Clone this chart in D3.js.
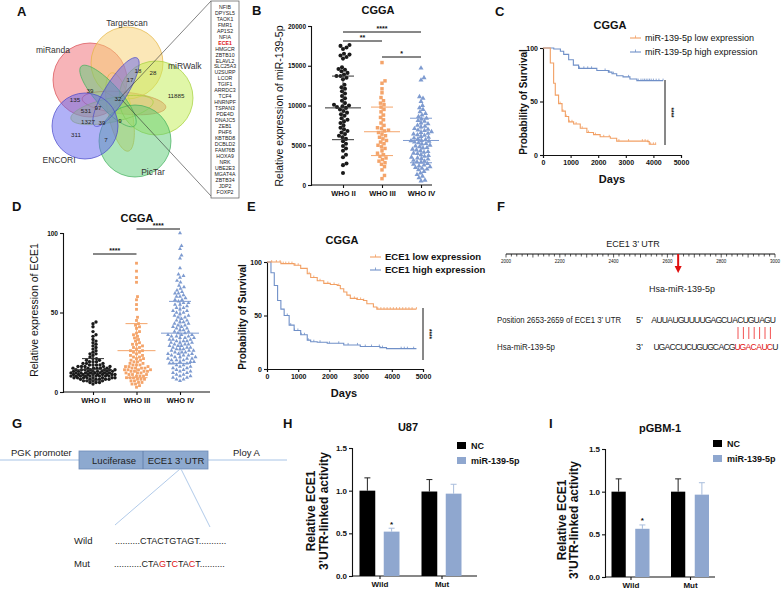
<!DOCTYPE html>
<html><head><meta charset="utf-8">
<script src="https://cdn.jsdelivr.net/npm/d3@7"></script>
<style>body{margin:0;background:#fff} text{font-family:"Liberation Sans",Arial,sans-serif}</style>
</head><body><svg id="c" width="784" height="593"></svg>
<script>
// ---------------- DATA ----------------
const vennSets = ['miRanda','Targetscan','miRWalk','PicTar','ENCORI'];
const vennCounts = ['18','28','17','11885','39','32','135','97','531','1327','39','9','311','7'];
const genes = ['NFIB','DPYSL5','TAOK1','FMR1','AP1S2','NFIA','ECE1','HMGCR','ZBTB10','ELAVL2','SLC25A3','U2SURP','LCOR','TGIF1','ARRDC3','TCF4','HNRNPF','TSPAN3','PDE4D','DNAJC5','ZEB1','PHF6','KBTBD8','DCBLD2','FAM76B','HOXA9','NRK','UBE2E3','MGAT4A','ZBTB34','JDP2','FOXP2'];
const highlightGene = 'ECE1';

const grades = ['WHO II','WHO III','WHO IV'];
const yTicksB = [0,5000,10000,15000,20000];
const miRWho2 = [17600,17500,17300,17100,16500,16400,16300,16100,15900,14800,14600,14500,14300,14100,13900,13700,13700,13500,13300,12600,12300,12100,11800,11500,11200,10900,10600,10300,10100,10000,9900,9800,9700,9500,9300,9100,8900,8700,8400,8200,8000,7800,7500,7200,7000,6800,6600,6400,6200,6000,5800,5500,5200,4900,4600,4300,3800,3500,2700,2500,1500];
const miRWho3 = [15400,13100,12800,12100,11600,11000,10600,10300,10100,9800,9500,9200,8800,8500,8200,7800,7500,7200,7100,6900,6800,6600,6400,6200,6000,5800,5600,5400,5200,5000,4800,4600,4300,4000,3800,3600,3400,3200,3000,2800,2600,2300,1900,1200,800];
const miRWho4 = [14700,13500,13200,11100,10900,10500,10000,9700,9500,9200,9000,8800,8600,8400,8300,8100,8000,7800,7700,7500,7400,7300,7100,7000,6900,6850,6700,6600,6500,6400,6300,6250,6100,6000,5900,5800,5700,5600,5550,5500,5400,5300,5200,5150,5000,4900,4800,4700,4650,4500,4400,4300,4200,4100,4000,3950,3800,3700,3600,3500,3400,3300,3250,3100,3000,2900,2850,2700,2600,2500,2400,2300,2200,2100,2000,1900,1700,1500,1300,1100,900,600,500];
const miRMean = [9700,6700,5600];
const miRSdLow = [5700,3700,2800];
const miRSdHigh = [13700,9800,8400];

const yTicksD = [0,50,100];
const eceWho2 = [44,43,41,38,36,35,33,32,31,30,29,28,27,26,25,24,24,23,22,21,21,20,20,19,19,19,18,18,18,17,17,17,17,16,16,16,16,16,15,15,15,15,15,15,14,14,14,14,14,14,14,13,13,13,13,13,13,13,13,12,12,12,12,12,12,12,12,12,11,11,11,11,11,11,11,11,11,11,10,10,10,10,10,10,10,10,10,9,9,9,9,9,9,9,9,8,8,8,8,8,8,7,7,7,7,6,6,6,5];
const eceWho3 = [81,76,72,69,60,58,55,52,47,45,43,42,41,40,38,37,36,35,34,33,32,31,30,30,29,28,28,27,26,26,25,25,24,23,23,22,22,21,21,20,20,19,19,18,18,17,17,17,16,16,16,15,15,15,15,14,14,14,14,13,13,13,13,12,12,12,11,11,11,10,10,10,9,9,9,8,8,8,7,7,6,6,5,5,4,3];
const eceWho4 = [100,92,90,86,84,78,74,73,72,70,69,67,66,65,64,63,62,62,61,60,60,59,58,58,57,56,56,55,55,54,53,53,52,51,51,50,50,49,48,48,47,47,46,45,45,44,44,43,43,42,42,41,41,40,40,39,39,38,38,37,37,36,36,36,35,35,35,34,34,34,33,33,33,32,32,32,31,31,31,30,30,30,29,29,29,28,28,28,27,27,27,26,26,26,25,25,25,24,24,24,23,23,23,22,22,22,21,21,21,20,20,20,19,19,19,18,18,18,17,17,16,16,15,15,14,14,13,13,12,12,11,11,10,10,9,9,8,8,7];
const eceMean = [14,26,37];
const eceSdLow = [7,9,18];
const eceSdHigh = [21,43,57];

const dayTicks = [0,1000,2000,3000,4000,5000];
const survTicks = [0,50,100];
const cLowLabel = 'miR-139-5p low expression', cHighLabel = 'miR-139-5p high expression';
const cLowT = [0,100,265,385,445,565,690,810,930,1110,1350,1590,1830,2070,2440,2670,3800,3850,4100];
const cLowS = [100,100,86,67,56,48,41,36,31,29,25,21,19,17,15.6,13,12.5,10,10];
const cLowCens = [620,720,840,950,1050,1200,1420,1650,1900,2200,2400,2750,3100,3600,3700,3800,3900,4000,4080];
const cHighT = [0,390,630,750,930,1100,1290,1950,2370,2500,2670,2900,3150,3400,4350];
const cHighS = [100,99,97,94,89,84,81,79,77.5,76,74,73,71,69.5,69.5];
const cHighCens = [1320,1480,1620,1760,2250,2400,2550,3100,3450,3550,3620,3680,3740,3800,3860,3920,4000,4100,4200,4350];

const eLowLabel = 'ECE1 low expression', eHighLabel = 'ECE1 high expression';
const eLowT = [0,445,870,1080,1290,1400,1610,1820,2030,2250,2350,2460,2560,2670,2880,3090,3200,3410,3520,4790];
const eLowS = [100,98.5,97,94,89,85.5,82.5,80,79,78,75,72,69,66,65,64,61,58,56,56];
const eLowCens = [150,300,420,520,600,700,800,900,1000,1350,1500,1700,1950,2150,2300,2800,2900,3000,3100,3550,3650,3750,3850,3950,4050,4150,4250,4350,4450,4550,4650,4790];
const eHighT = [0,127,233,340,445,550,710,870,1080,1290,1400,1610,1930,2460,2990,3620,3830,4790];
const eHighS = [100,90,78,64,56,50,41,36,32,27,25.5,25,24,22.5,21,20,19,19];
const eHighCens = [650,760,880,990,1100,1200,1320,1500,1700,2000,2300,2600,2900,3150,3350,3600,3700,4300,4400,4500,4700];

const rulerTicks = [2000,2200,2400,2600,2800,3000];
const siteLabel = 'ECE1   3\u2019  UTR';
const utrSeq = 'AUUAUGUUUUGAGCUACUGUAGU';
const mirSeq = 'UGACCUCUGUGCACGUGACAUCU';
const seedRange = [15,21];
const wildSeq = 'CTACTGTAGT';
const mutSeq = 'CTAGTCTACT';
const mutRed = [3,5,8];

const barGroups = ['Wild','Mut'];
const barSeries = ['NC','miR-139-5p'];
const barTicks = [0,0.5,1.0,1.5];
const u87Mean = [[1.0,0.52],[0.99,0.965]];
const u87Err = [[0.15,0.04],[0.14,0.11]];
const pgbmMean = [[1.0,0.565],[1.0,0.965]];
const pgbmErr = [[0.15,0.045],[0.15,0.14]];

// ---------------- DRAW ----------------
const svg = d3.select('#c');
svg.append('rect').attr('width',784).attr('height',593).attr('fill','#fff');
const FONT = '"Liberation Sans",Arial,sans-serif';
const COL = {black:'#1a1a1a', orange:'#f4a46a', blue:'#7e9bd0', kmO:'#f2a064', kmB:'#7090c8', bar:'#8fa7cf'};

function txt(x,y,s,o={}) {
  const t = svg.append('text').attr('x',x).attr('y',y).text(s)
    .attr('font-size',o.size||9).attr('font-weight',o.weight||'normal')
    .attr('fill',o.fill||'#111').attr('text-anchor',o.anchor||'start');
  if (o.rotate) t.attr('transform',`rotate(${o.rotate},${x},${y})`);
  if (o.len) t.attr('textLength',o.len).attr('lengthAdjust','spacingAndGlyphs');
  return t;
}
// panel letters
[['A',17,16],['B',252,15],['C',495,16],['D',12,211],['E',247,211],['F',497,211],['G',12,428],['H',283,428],['I',549,428]]
  .forEach(([l,x,y])=>txt(x,y,l,{size:13,weight:'bold'}));

// ---- Panel A: Venn ----
(function(){
  const shapes = {
    miRanda:   {c:[90,80,37],  e:[124,103,42,11,6],   fill:'#f06a72', stroke:'#d84a50'},
    Targetscan:{c:[127,63,36], e:[120,112,12,40,-12],  fill:'#f8d070', stroke:'#e4b440'},
    miRWalk:   {c:[156,98,37], e:[112,110,42,12,-12], fill:'#c2ee52', stroke:'#a4d038'},
    PicTar:    {c:[135,141,36],e:[108,96,12,40,-42],  fill:'#5ccc76', stroke:'#3faf5a'},
    ENCORI:    {c:[85,126,33], e:[116,92,11,40,32],   fill:'#6264f0', stroke:'#4646c8'}
  };
  function shapePath(s){
    const p = d3.path();
    const [cx,cy,r] = s.c;
    p.moveTo(cx+r,cy); p.arc(cx,cy,r,0,Math.PI*2); p.closePath();
    const [ex,ey,rx,ry,rot] = s.e; const th = rot*Math.PI/180;
    for (let i=0;i<=72;i++){
      const t = i/72*Math.PI*2;
      const x = ex + rx*Math.cos(t)*Math.cos(th) - ry*Math.sin(t)*Math.sin(th);
      const y = ey + rx*Math.cos(t)*Math.sin(th) + ry*Math.sin(t)*Math.cos(th);
      if (i===0) p.moveTo(x,y); else p.lineTo(x,y);
    }
    p.closePath();
    return p.toString();
  }
  const g = svg.append('g');
  vennSets.forEach(n=>{
    const s = shapes[n];
    g.append('path').attr('d',shapePath(s)).attr('fill',s.fill).attr('fill-opacity',0.5)
      .attr('fill-rule','nonzero').attr('stroke',s.stroke).attr('stroke-width',0.7);
  });
  const setLabelPos = {Targetscan:[127,26,'middle'],miRanda:[53,53,'middle'],miRWalk:[168,69,'start'],ENCORI:[59,163,'middle'],PicTar:[153,175,'middle']};
  vennSets.forEach(n=>{const [x,y,a]=setLabelPos[n]; txt(x,y,n,{size:8.5,anchor:a,fill:'#333'});});
  const countPos = [[138,73],[153,75],[130,82],[176,98],[90,93],[118,101],[75,102],[98,110],[86,113],[88,124],[102,125],[120,123],[76,137],[106,142]];
  vennCounts.forEach((c,i)=>txt(countPos[i][0],countPos[i][1],c,{size:6.2,anchor:'middle',fill:'#222'}));
  svg.append('line').attr('x1',120).attr('y1',98).attr('x2',211).attr('y2',1).attr('stroke','#333').attr('stroke-width',0.6);
  svg.append('line').attr('x1',122).attr('y1',100).attr('x2',211).attr('y2',196).attr('stroke','#333').attr('stroke-width',0.6);
  svg.append('rect').attr('x',211).attr('y',1).attr('width',28).attr('height',197).attr('fill','#fff').attr('stroke','#555').attr('stroke-width',0.7);
  const gy = d3.scalePoint().domain(genes).range([7,192]);
  genes.forEach(gn=>txt(225,gy(gn)+1.8,gn,{size:5.2,anchor:'middle',fill:gn===highlightGene?'#e01010':'#222',weight:gn===highlightGene?'bold':'normal'}));
})();

// ---- beeswarm ----
function swarm(values, y, r, maxHalf, sep){
  const pts = values.map(v=>({v, y:y(v)})).sort((a,b)=>b.y-a.y);
  const placed = [];
  const d = 2*r*sep;
  for (const p of pts){
    let best=0, bestScore=-1;
    for (let k=0;k<=maxHalf*4;k++){
      const off = (k%2?1:-1)*Math.ceil(k/2)*0.5;
      let minD = Infinity;
      for (const q of placed){ if (Math.abs(q.y-p.y)<d){ const dd=Math.hypot(q.x-off,q.y-p.y); if(dd<minD)minD=dd; } }
      if (minD>=d){ best=off; bestScore=Infinity; break; }
      if (minD>bestScore){ bestScore=minD; best=off; }
    }
    p.x=best; placed.push(p);
  }
  return pts;
}
function styleAxis(g,size){
  g.selectAll('text').attr('font-size',size||7).attr('font-weight','bold').attr('fill','#111').attr('font-family',FONT);
  g.selectAll('line,path').attr('stroke','#111').attr('stroke-width',1.1);
}

function scatterPanel(o){
  const y = d3.scaleLinear().domain([o.yTicks[0],o.yTicks[o.yTicks.length-1]]).range([o.y0,o.y1]);
  const x = d3.scalePoint().domain(grades).range([o.xc[0],o.xc[1]]);
  const ga = svg.append('g').attr('transform',`translate(${o.ax},0)`).call(d3.axisLeft(y).tickValues(o.yTicks).tickSize(3).tickPadding(2).tickFormat(d3.format('d')));
  styleAxis(ga,6.5);
  const gx = svg.append('g').attr('transform',`translate(0,${o.y0})`).call(d3.axisBottom(x).tickSize(3).tickPadding(3));
  gx.select('.domain').remove(); styleAxis(gx,7.5);
  svg.append('line').attr('x1',o.ax).attr('x2',o.xEnd).attr('y1',o.y0).attr('y2',o.y0).attr('stroke','#111').attr('stroke-width',1.1);
  const sym = [d3.symbolCircle,d3.symbolSquare,d3.symbolTriangle];
  const cols = [COL.black,COL.orange,COL.blue];
  o.data.forEach((vals,i)=>{
    const pts = swarm(vals,y,o.r[i],o.maxHalf[i],o.sep);
    svg.append('g').selectAll('path').data(pts).join('path')
      .attr('d',d3.symbol().type(sym[i]).size(o.symSize[i]))
      .attr('transform',d=>`translate(${x(grades[i])+d.x},${d.y})`)
      .attr('fill',cols[i]);
    const cx = x(grades[i]);
    const lc = i===0?'#333':cols[i];
    svg.append('line').attr('x1',cx-o.meanW).attr('x2',cx+o.meanW).attr('y1',y(o.mean[i])).attr('y2',y(o.mean[i])).attr('stroke',lc).attr('stroke-width',1);
    [o.sdLow[i],o.sdHigh[i]].forEach(v=>svg.append('line').attr('x1',cx-o.sdW).attr('x2',cx+o.sdW).attr('y1',y(v)).attr('y2',y(v)).attr('stroke',lc).attr('stroke-width',1));
    svg.append('line').attr('x1',cx).attr('x2',cx).attr('y1',y(o.sdLow[i])).attr('y2',y(o.sdHigh[i])).attr('stroke',lc).attr('stroke-width',0.8);
  });
  o.sig.forEach(s=>{
    svg.append('line').attr('x1',x(grades[s[0]])).attr('x2',x(grades[s[1]])).attr('y1',s[2]).attr('y2',s[2]).attr('stroke','#111').attr('stroke-width',1);
    txt((x(grades[s[0]])+x(grades[s[1]]))/2,s[2]-1.5,s[3],{size:7,anchor:'middle',weight:'bold'});
  });
  txt(o.title[0],o.title[1],'CGGA',{size:11,weight:'bold',anchor:'middle'});
  txt(o.ylab[0],o.ylab[1],o.ylab[2],{size:o.ylab[3],anchor:'middle',rotate:-90,fill:'#111'});
}

scatterPanel({yTicks:yTicksB,y0:185,y1:26,ax:311,xEnd:432,xc:[343,421],data:[miRWho2,miRWho3,miRWho4],
  r:[1.9,1.9,1.8],sep:1.0,maxHalf:[20,18,20],symSize:[13,12,11],mean:miRMean,sdLow:miRSdLow,sdHigh:miRSdHigh,meanW:18,sdW:11,
  sig:[[0,2,32,'****'],[0,1,41,'**'],[1,2,57,'*']],title:[378,14],ylab:[283,106,'Relative expression of miR-139-5p',10.5]});

scatterPanel({yTicks:yTicksD,y0:392,y1:233,ax:63,xEnd:210,xc:[93,180],data:[eceWho2,eceWho3,eceWho4],
  r:[1.6,1.7,1.8],sep:0.95,maxHalf:[22,18,19],symSize:[9,8,7],mean:eceMean,sdLow:eceSdLow,sdHigh:eceSdHigh,meanW:19,sdW:11,
  sig:[[0,1,254,'****'],[1,2,229,'****']],title:[137,222],ylab:[38,310,'Relative expression of ECE1',10.5]});

// ---- KM panels ----
function kmPanel(o){
  const x = d3.scaleLinear().domain([0,5000]).range([o.x0,o.x1]);
  const y = d3.scaleLinear().domain([0,100]).range([o.y0,o.y1]);
  const ga = svg.append('g').attr('transform',`translate(${o.x0},0)`).call(d3.axisLeft(y).tickValues(survTicks).tickSize(3).tickPadding(2).tickFormat(d3.format('d')));
  styleAxis(ga,7);
  const gx = svg.append('g').attr('transform',`translate(0,${o.y0})`).call(d3.axisBottom(x).tickValues(dayTicks).tickSize(3).tickPadding(2).tickFormat(d3.format('d')));
  styleAxis(gx,7);
  const line = d3.line().x(d=>x(d[0])).y(d=>y(d[1])).curve(d3.curveStepAfter);
  o.series.forEach(s=>{
    const pts = s.t.map((t,i)=>[t,s.s[i]]);
    svg.append('path').attr('d',line(pts)).attr('fill','none').attr('stroke',s.col).attr('stroke-width',1.1);
    const lookup = t=>{let v=s.s[0]; for(let i=0;i<s.t.length;i++){ if(s.t[i]<=t) v=s.s[i]; } return v;};
    s.cens.forEach(t=>svg.append('line').attr('x1',x(t)).attr('x2',x(t)).attr('y1',y(lookup(t))-2).attr('y2',y(lookup(t))).attr('stroke',s.col).attr('stroke-width',0.8));
  });
  o.legend.forEach((l,i)=>{
    const ly = o.leg[1]+i*o.leg[3];
    svg.append('line').attr('x1',o.leg[0]).attr('x2',o.leg[0]+11).attr('y1',ly).attr('y2',ly).attr('stroke',l[1]).attr('stroke-width',1.1);
    svg.append('line').attr('x1',o.leg[0]+5.5).attr('x2',o.leg[0]+5.5).attr('y1',ly-2.5).attr('y2',ly).attr('stroke',l[1]).attr('stroke-width',0.8);
    txt(o.leg[0]+15,ly+3.3,l[0],{size:o.leg[2],weight:o.legW});
  });
  svg.append('line').attr('x1',o.sig[0]).attr('x2',o.sig[0]).attr('y1',o.sig[1]).attr('y2',o.sig[2]).attr('stroke','#111').attr('stroke-width',1);
  txt(o.sig[0]+4,(o.sig[1]+o.sig[2])/2,'****',{size:6.5,weight:'bold',anchor:'middle',rotate:90});
  txt(o.title[0],o.title[1],'CGGA',{size:11,weight:'bold',anchor:'middle'});
  txt(o.days[0],o.days[1],'Days',{size:11,weight:'bold',anchor:'middle'});
  txt(o.ylab[0],o.ylab[1],'Probability of Survival',{size:10,weight:'bold',anchor:'middle',rotate:-90});
}
kmPanel({x0:543,x1:681,y0:155,y1:48,series:[
  {t:cHighT,s:cHighS,cens:cHighCens,col:COL.kmB},{t:cLowT,s:cLowS,cens:cLowCens,col:COL.kmO}],
  legend:[[cLowLabel,COL.kmO],[cHighLabel,COL.kmB]],leg:[630,38,9,14],legW:'normal',
  sig:[665,80,145],title:[610,29],days:[612,183],ylab:[527,102]});
kmPanel({x0:267,x1:423,y0:369,y1:262,series:[
  {t:eHighT,s:eHighS,cens:eHighCens,col:COL.kmB},{t:eLowT,s:eLowS,cens:eLowCens,col:COL.kmO}],
  legend:[[eLowLabel,COL.kmO],[eHighLabel,COL.kmB]],leg:[370,257,9.5,13],legW:'bold',
  sig:[423,308,360],title:[342,244],days:[344,397],ylab:[246,317]});

// ---- Panel F ----
(function(){
  const x = d3.scaleLinear().domain([2000,3000]).range([506,775]);
  svg.append('line').attr('x1',x(2000)).attr('x2',x(3000)).attr('y1',254).attr('y2',254).attr('stroke','#111').attr('stroke-width',1);
  d3.range(2000,3001,20).forEach(v=>svg.append('line').attr('x1',x(v)).attr('x2',x(v)).attr('y1',254).attr('y2',v%100===0?257.5:256.5).attr('stroke','#111').attr('stroke-width',0.7));
  rulerTicks.forEach(v=>txt(x(v),263,v,{size:4.5,anchor:'middle'}));
  txt(633,247,siteLabel,{size:9,anchor:'middle',fill:'#222'});
  svg.append('line').attr('x1',x(2640)).attr('x2',x(2640)).attr('y1',254).attr('y2',267).attr('stroke','#e01010').attr('stroke-width',2);
  svg.append('path').attr('d',`M${x(2640)-3.5},266 L${x(2640)+3.5},266 L${x(2640)},273 Z`).attr('fill','#e01010');
  txt(682,292,'Hsa-miR-139-5p',{size:9,anchor:'middle',fill:'#222'});
  txt(497,323,'Position 2653-2659 of ECE1 3\u2019 UTR',{size:8.6,fill:'#222',len:124});
  txt(497,350,'Hsa-miR-139-5p',{size:9,fill:'#222',len:58});
  txt(636,323,'5\u2019',{size:9,fill:'#222'});
  txt(636,350,'3\u2019',{size:9,fill:'#222'});
  const step = 5.4;
  utrSeq.split('').forEach((c,i)=>txt(654+i*step,323,c,{size:8.6,anchor:'middle',fill:'#222'}));
  mirSeq.split('').forEach((c,i)=>txt(656.5+i*step,350,c,{size:8.6,anchor:'middle',fill:(i>=seedRange[0]&&i<=seedRange[1])?'#e01010':'#222'}));
  d3.range(seedRange[0],seedRange[1]+1).forEach(i=>svg.append('line').attr('x1',656.5+i*step+0.5).attr('x2',656.5+i*step+0.5).attr('y1',327).attr('y2',339).attr('stroke','#f04040').attr('stroke-width',0.9));
})();

// ---- Panel G ----
(function(){
  svg.append('line').attr('x1',0).attr('x2',287).attr('y1',460).attr('y2',460).attr('stroke','#a8c4e6').attr('stroke-width',1);
  svg.append('rect').attr('x',79).attr('y',451).attr('width',129).attr('height',18).attr('fill','#8da9cf').attr('stroke','#6e8cb8').attr('stroke-width',0.8);
  svg.append('line').attr('x1',143).attr('x2',143).attr('y1',451).attr('y2',469).attr('stroke','#5a78a6').attr('stroke-width',0.8);
  txt(114,464,'Luciferase',{size:9.5,anchor:'middle',fill:'#222'});
  txt(176,464,'ECE1 3\u2019  UTR',{size:9.5,anchor:'middle',fill:'#222'});
  txt(11,456,'PGK promoter',{size:9.5,fill:'#222'});
  txt(233,456,'Ploy  A',{size:9.5,fill:'#222'});
  svg.append('line').attr('x1',180).attr('y1',469).attr('x2',115).attr('y2',525).attr('stroke','#a8c4e6').attr('stroke-width',0.9);
  svg.append('line').attr('x1',181).attr('y1',469).attr('x2',210).attr('y2',527).attr('stroke','#a8c4e6').attr('stroke-width',0.9);
  txt(74,544,'Wild',{size:9.5,fill:'#222'});
  txt(74,567,'Mut',{size:9.5,fill:'#222'});
  const w = svg.append('text').attr('x',115).attr('y',544).attr('font-size',9).attr('fill','#222');
  w.append('tspan').text('..........'); w.append('tspan').text(wildSeq); w.append('tspan').text('...........');
  const m = svg.append('text').attr('x',114).attr('y',567).attr('font-size',9).attr('fill','#222');
  m.append('tspan').text('...........');
  mutSeq.split('').forEach((c,i)=>m.append('tspan').text(c).attr('fill',mutRed.includes(i)?'#e01010':'#222'));
  m.append('tspan').text('..........');
})();

// ---- Bar panels ----
function barPanel(o){
  const y = d3.scaleLinear().domain([0,1.5]).range([o.y0,o.y1]);
  const gxs = d3.scalePoint().domain(barGroups).range(o.gc);
  const sub = d3.scaleBand().domain(barSeries).range([-o.half,o.half]).paddingInner(o.pad);
  const ga = svg.append('g').attr('transform',`translate(${o.ax},0)`).call(d3.axisLeft(y).tickValues(barTicks).tickSize(3).tickPadding(2).tickFormat(d3.format('.1f')));
  styleAxis(ga,8);
  const gx = svg.append('g').attr('transform',`translate(0,${o.y0})`).call(d3.axisBottom(gxs).tickSize(3).tickPadding(2));
  gx.select('.domain').remove(); styleAxis(gx,8);
  svg.append('line').attr('x1',o.ax).attr('x2',o.xEnd).attr('y1',o.y0).attr('y2',o.y0).attr('stroke','#111').attr('stroke-width',1.1);
  const cols = ['#000',COL.bar];
  barGroups.forEach((g,gi)=>barSeries.forEach((s,si)=>{
    const bx = gxs(g)+sub(s), bw = sub.bandwidth(), v = o.mean[gi][si], e = o.err[gi][si];
    const cx = bx+bw/2;
    svg.append('line').attr('x1',cx).attr('x2',cx).attr('y1',y(v)).attr('y2',y(v+e)).attr('stroke',si?'#a9bddc':'#222').attr('stroke-width',1);
    svg.append('line').attr('x1',cx-3).attr('x2',cx+3).attr('y1',y(v+e)).attr('y2',y(v+e)).attr('stroke',si?'#a9bddc':'#222').attr('stroke-width',1);
    svg.append('rect').attr('x',bx).attr('y',y(v)).attr('width',bw).attr('height',o.y0-y(v)).attr('fill',cols[si]);
    if (gi===0 && si===1) txt(cx,y(v+e)-1.5,'*',{size:8,weight:'bold',anchor:'middle'});
  }));
  barSeries.forEach((s,si)=>{
    svg.append('rect').attr('x',o.leg[0]).attr('y',o.leg[1]+si*o.leg[2]).attr('width',9).attr('height',7).attr('fill',cols[si]);
    txt(o.leg[0]+14,o.leg[1]+si*o.leg[2]+7,s,{size:9,weight:'bold'});
  });
  txt(o.title[0],o.title[1],o.title[2],{size:11,weight:'bold',anchor:'middle'});
  txt(o.ylab[0],o.ylab[2],'Relative ECE1',{size:12,weight:'bold',anchor:'middle',rotate:-90});
  txt(o.ylab[1],o.ylab[2],'3\u2019UTR-linked activity',{size:12,weight:'bold',anchor:'middle',rotate:-90});
}
barPanel({y0:576,y1:448,ax:352,xEnd:477,gc:[379.5,441.5],half:20,pad:0.35,mean:u87Mean,err:u87Err,
  leg:[457,442,15],title:[408,431,'U87'],ylab:[315,328,511]});
barPanel({y0:577,y1:449,ax:605,xEnd:715,gc:[630.5,690],half:19,pad:0.4,mean:pgbmMean,err:pgbmErr,
  leg:[713,440,15],title:[660,432,'pGBM-1'],ylab:[566,578,520]});
</script></body></html>
